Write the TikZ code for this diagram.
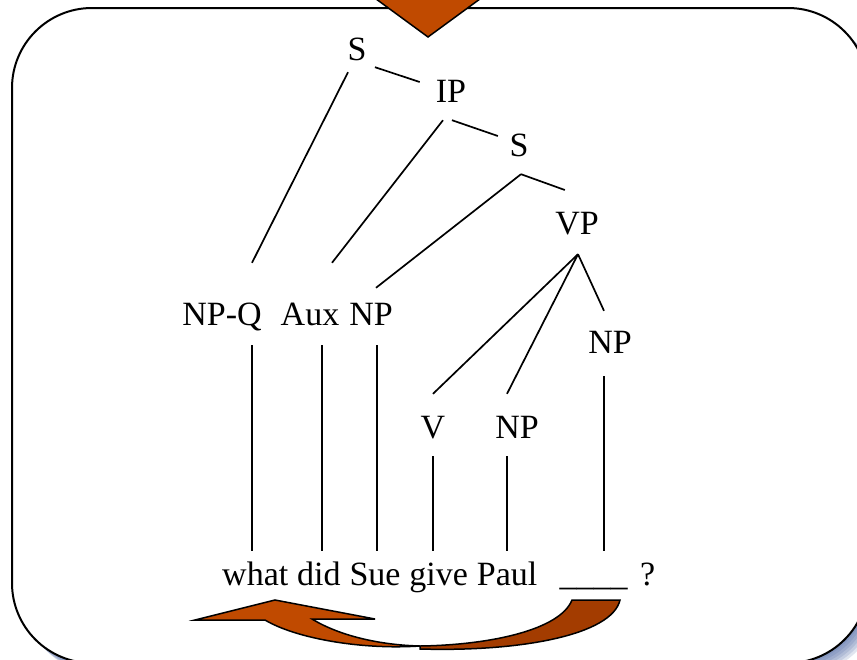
\documentclass[tikz,border=0pt]{standalone}
\usepackage{fontspec}
\setmainfont{Liberation Serif}
\usetikzlibrary{positioning}
\definecolor{arrowor}{RGB}{192,74,0}
\definecolor{arrowdk}{RGB}{163,60,0}
\definecolor{shadowblue}{RGB}{72,98,160}
\tikzset{
  cat/.style={font=\fontsize{34}{40}\selectfont, inner sep=0pt, text height=23pt, text depth=0pt, anchor=base},
  branch/.style={line width=1.7pt},
  blockarrow/.style={line width=1.5pt, line join=miter}
}
\begin{document}
\begin{tikzpicture}[x=1pt,y=-1pt, node distance=8.5pt]
  \useasboundingbox (0,0) rectangle (857,659);
  \clip (0,0) rectangle (857,659);

  \foreach \s in {2,4,...,12}
    \fill[shadowblue, opacity=0.17, rounded corners=80pt] (12+\s,8+\s) rectangle (868+\s,663+\s);
  \draw[line width=2pt, fill=white, rounded corners=80pt] (12,8) rectangle (868,663);

  \filldraw[blockarrow, fill=arrowor] (363.8,-10) -- (428,37) -- (492.2,-10);

  \node[cat] (s1) at (357,60) {S};
  \node[cat] (ip) at (451,102) {IP};
  \node[cat] (s2) at (519,156) {S};
  \node[cat] (vp) at (577,234) {VP};
  \node[cat] (npq) at (222,325) {NP-Q};
  \node[cat] (aux) at (310,325) {Aux};
  \node[cat] (npa) at (371,325) {NP};
  \node[cat] (npc) at (610,353) {NP};
  \node[cat] (v) at (433,438) {V};
  \node[cat] (npb) at (517,438) {NP};

  \node[cat, anchor=base west] (what) at (222,585) {what};
  \node[cat, right=of what] (did) {did};
  \node[cat, right=of did] (sue) {Sue};
  \node[cat, right=of sue] (give) {give};
  \node[cat, right=of give] (paul) {Paul};
  \node[cat, right=22pt of paul] (blank) {\_\_\_\_};
  \node[cat, right=12pt of blank] (qm) {?};

  \draw[branch] ([shift={(18,7)}]s1.south) -- ([shift={(-16,-8.5)}]ip.west);
  \draw[branch] ([shift={(-9,12)}]s1.south) -- ([shift={(30,-39)}]npq.north);
  \draw[branch] ([shift={(-8,18)}]ip.south) -- ([shift={(22,-39)}]aux.north);
  \draw[branch] ([shift={(1,18)}]ip.south) -- ([shift={(-11.5,-8.5)}]s2.west);
  \draw[branch] ([shift={(2,18)}]s2.south) -- ([shift={(5,-14)}]npa.north);
  \draw[branch] ([shift={(2,18)}]s2.south) -- ([shift={(9.75,-32.5)}]vp.west);
  \draw[branch] ([shift={(1,20)}]vp.south) -- ([shift={(0,-21)}]v.north);
  \draw[branch] ([shift={(1,20)}]vp.south) -- ([shift={(-10,-21)}]npb.north);
  \draw[branch] ([shift={(1,20)}]vp.south) -- ([shift={(-6,-19)}]npc.north);

  \foreach \up/\ux/\uy/\dn in {npq/30/20/what, aux/12/20/did, npa/6/20/sue,
      v/0/18/give, npb/-10/18/paul, npc/-6/23/blank}
    \draw[branch] ([shift={(\ux,\uy)}]\up.south) coordinate (top) -- ([yshift=11pt]top |- \dn.north);

  \filldraw[blockarrow, fill=arrowor] (195,620) -- (275,600) -- (375,619) -- (312,619)
    .. controls (340,636) and (380,645) .. (420,646)
    .. controls (360,650) and (295,638) .. (265,620) -- cycle;
  \filldraw[blockarrow, fill=arrowdk] (420,646) .. controls (490,645) and (560,630) .. (572,600)
    -- (620,600) .. controls (612,635) and (520,652) .. (420,649) -- cycle;
\end{tikzpicture}
\end{document}
